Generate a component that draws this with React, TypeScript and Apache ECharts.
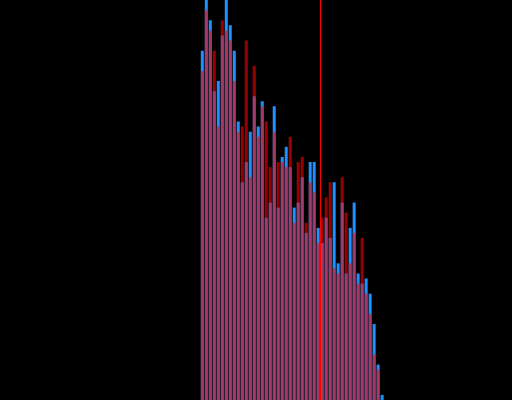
import React, { useEffect, useRef } from "react";
import * as echarts from "echarts";

// Histogram bin starts (x units), two overlaid count series, and a reference line
const binStarts = [
  50, 51, 52, 53, 54, 55, 56, 57, 58, 59, 60, 61, 62, 63, 64, 65,
  66, 67, 68, 69, 70, 71, 72, 73, 74, 75, 76, 77, 78, 79, 80, 81,
  82, 83, 84, 85, 86, 87, 88, 89, 90, 91, 92, 93, 94, 95,
];
const blueCounts = [
  69, 79, 75, 61, 63, 72, 79, 74, 69, 55, 43, 47, 53, 60, 54, 59,
  36, 39, 58, 38, 48, 50, 46, 38, 39, 44, 33, 47, 47, 34, 31, 36,
  32, 43, 27, 39, 25, 34, 39, 25, 23, 24, 21, 15, 7, 1,
];
const redCounts = [
  65, 77, 73, 69, 54, 75, 73, 71, 63, 53, 54, 71, 44, 66, 52, 58,
  55, 46, 53, 47, 47, 46, 52, 35, 47, 48, 35, 43, 41, 31, 36, 40,
  43, 26, 25, 44, 37, 27, 33, 23, 32, 21, 17, 9, 6, 0,
];
const xRange = [0, 128];
const yMax = 79;
const refLine = 80;

export default function App() {
  const ref = useRef<HTMLDivElement>(null);
  useEffect(() => {
    document.body.style.margin = "0";
    document.body.style.background = "#000";
    if (!ref.current) return;
    const chart = echarts.init(ref.current, null, { renderer: "svg" });
    const blueData = binStarts.map((b, i) => [b + 0.5, blueCounts[i]]);
    const redData = binStarts.map((b, i) => [b + 0.5, redCounts[i]]);
    chart.setOption({
      animation: false,
      backgroundColor: "#000000",
      grid: { left: 0.5, top: 0, width: 512, bottom: 0 },
      xAxis: {
        type: "value",
        min: xRange[0],
        max: xRange[1],
        show: false,
        splitLine: { show: false },
      },
      yAxis: {
        type: "value",
        min: 0,
        max: yMax,
        show: false,
        splitLine: { show: false },
      },
      series: [
        {
          type: "bar",
          data: blueData,
          barWidth: 3,
          barGap: "-100%",
          itemStyle: { color: "#1e90ff" },
          z: 2,
        },
        {
          type: "bar",
          data: redData,
          barWidth: 3,
          barGap: "-100%",
          itemStyle: { color: "rgba(255,0,0,0.6)" },
          z: 3,
          markLine: {
            silent: true,
            symbol: "none",
            label: { show: false },
            lineStyle: { color: "#ff0000", width: 1, type: "solid" },
            data: [{ xAxis: refLine }],
          },
        },
      ],
    });
    return () => chart.dispose();
  }, []);
  return <div ref={ref} style={{ width: 512, height: 400 }} />;
}
